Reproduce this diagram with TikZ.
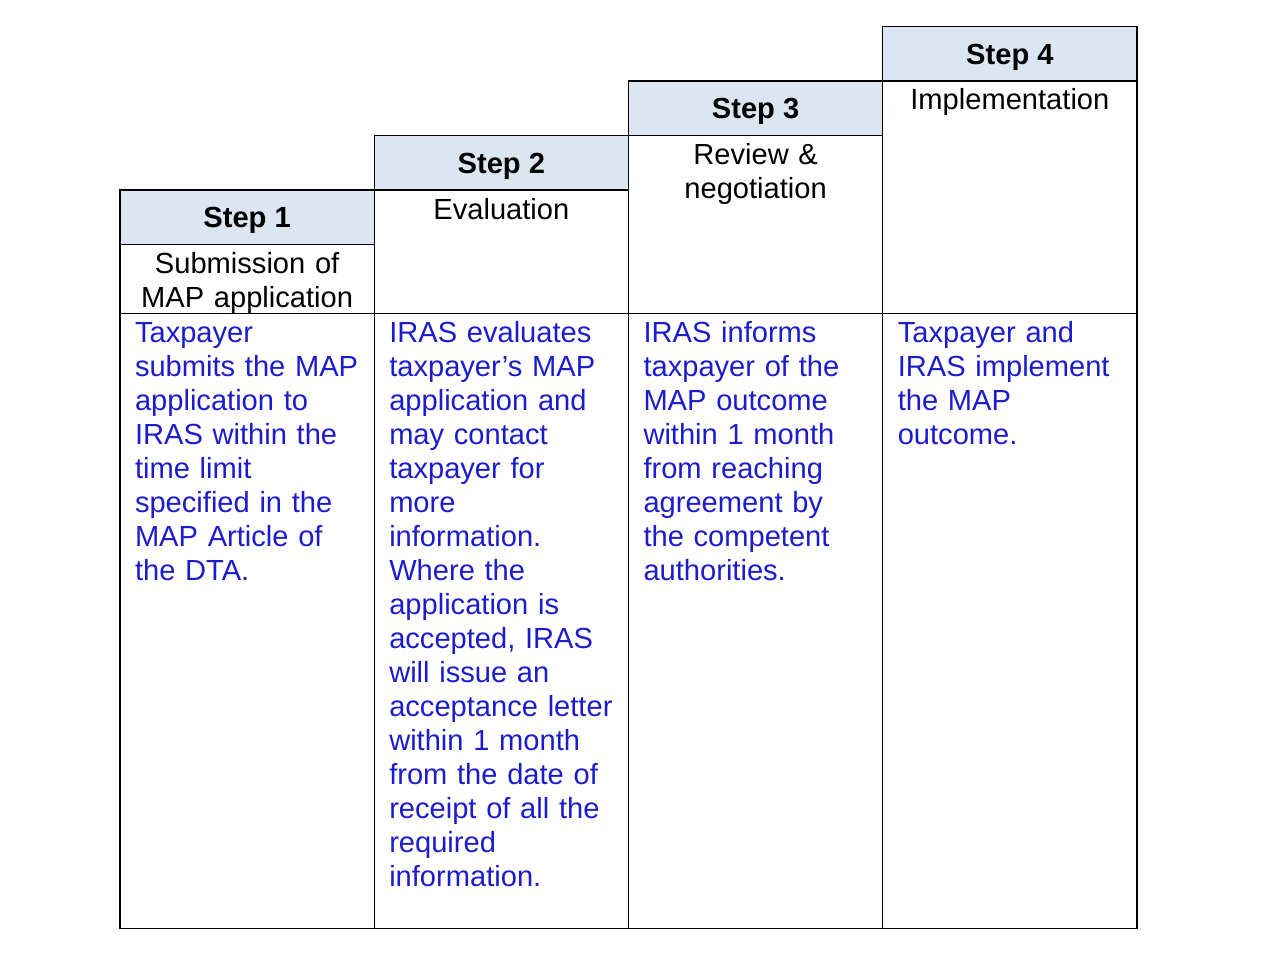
\documentclass[tikz,border=0pt]{standalone}
\usepackage{fontspec}
\setmainfont{Liberation Sans}
\usetikzlibrary{positioning}
\definecolor{headfill}{RGB}{220,230,242}
\definecolor{textblue}{RGB}{28,28,204}

\begin{document}
\begin{tikzpicture}[x=1pt,y=1pt]
   \tikzstyle{every node}=[font=\fontsize{29.1}{34}\selectfont, outer sep=0pt, inner sep=0pt]
   \tikzstyle{stephead}=[draw, line width=1.4pt, fill=headfill, minimum width=254.25pt, minimum height=54.5pt, text height=21pt, text depth=0pt, font=\fontsize{29.1}{34}\selectfont\bfseries]
   \tikzstyle{stepcell}=[draw, line width=1.4pt, minimum width=254.25pt]
   \tikzstyle{subtext}=[anchor=base, text width=250pt, align=center]
   \tikzstyle{bodytext}=[anchor=base west, text width=238pt, align=left, text=textblue]

\useasboundingbox (0,0) rectangle (1266,-963);

% staircase of step boxes
\node[stephead] (head1) at (247.125,-217.25) {Step 1};
\node[stepcell, minimum height=69pt, below=0pt of head1] (sub1) {};
\node[stepcell, minimum height=615pt, below=0pt of sub1] (body1) {};

\node[stephead, above right=0pt of head1] (head2) {Step 2};
\node[stepcell, minimum height=123.5pt, below=0pt of head2] (sub2) {};
\node[stepcell, minimum height=615pt, below=0pt of sub2] (body2) {};

\node[stephead, above right=0pt of head2] (head3) {Step 3};
\node[stepcell, minimum height=178pt, below=0pt of head3] (sub3) {};
\node[stepcell, minimum height=615pt, below=0pt of sub3] (body3) {};

\node[stephead, above right=0pt of head3] (head4) {Step 4};
\node[stepcell, minimum height=232.5pt, below=0pt of head4] (sub4) {};
\node[stepcell, minimum height=615pt, below=0pt of sub4] (body4) {};

% titles
\node[subtext] (title1) at ([yshift=-29pt]sub1.north) {Submission of\\MAP application};
\node[subtext] (title2) at ([yshift=-29pt]sub2.north) {Evaluation};
\node[subtext] (title3) at ([yshift=-29pt]sub3.north) {Review \&\\negotiation};
\node[subtext] (title4) at ([yshift=-29pt]sub4.north) {Implementation};

% descriptions
\node[bodytext] (text1) at ([xshift=15pt,yshift=-29pt]body1.north west)
   {Taxpayer\\submits the MAP\\application to\\IRAS within the\\time limit\\specified in the\\MAP Article of\\the DTA.};
\node[bodytext] (text2) at ([xshift=15pt,yshift=-29pt]body2.north west)
   {IRAS evaluates\\taxpayer’s MAP\\application and\\may contact\\taxpayer for\\more\\information.\\Where the\\application is\\accepted, IRAS\\will issue an\\acceptance letter\\within 1 month\\from the date of\\receipt of all the\\required\\information.};
\node[bodytext] (text3) at ([xshift=15pt,yshift=-29pt]body3.north west)
   {IRAS informs\\taxpayer of the\\MAP outcome\\within 1 month\\from reaching\\agreement by\\the competent\\authorities.};
\node[bodytext] (text4) at ([xshift=15pt,yshift=-29pt]body4.north west)
   {Taxpayer and\\IRAS implement\\the MAP\\outcome.};

\end{tikzpicture}
\end{document}
